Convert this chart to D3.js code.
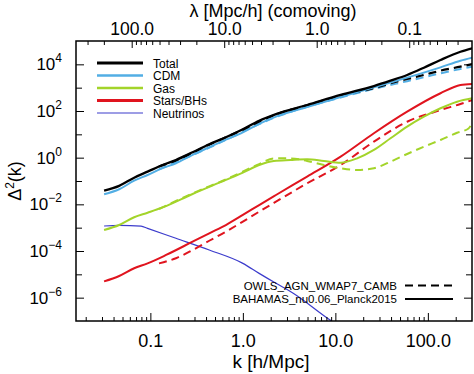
<!DOCTYPE html>
<html>
<head>
<meta charset="utf-8">
<script src="https://cdn.jsdelivr.net/npm/d3@7"></script>
<style>
  body { margin: 0; background: #fff; }
  svg { font-family: "Liberation Sans", Arial, sans-serif; }
</style>
</head>
<body>
<svg id="chart" width="474" height="374"></svg>
<script>
// [k (h/Mpc), Delta^2(k)]
var totalBahamas = [[0.0316, 0.0385], [0.046, 0.0617], [0.0668, 0.139], [0.0933, 0.251], [0.1355, 0.486], [0.189, 0.794],
    [0.286, 1.70], [0.433, 3.75], [0.655, 7.48], [1.0, 16.5], [1.50, 38.5], [2.28, 74], [4.95, 181], [11.4, 486],
    [26.1, 1175], [39.5, 1995], [59.7, 3500], [90.6, 7190], [137, 15380], [225, 34670], [301, 49000]];
var totalOwls = [[0.124, 0.42], [0.189, 0.76], [0.433, 3.6], [1.0, 15.8], [2.28, 72], [4.95, 174], [11.4, 457],
    [26.1, 955], [39.5, 1550], [59.7, 2340], [90.6, 3500], [137, 5370], [225, 7940], [301, 10230]];
var cdmBahamas = [[0.0316, 0.0269], [0.046, 0.0442], [0.0668, 0.103], [0.0933, 0.181], [0.1355, 0.355], [0.189, 0.575],
    [0.286, 1.32], [0.433, 2.79], [0.655, 5.89], [1.0, 12.2], [1.50, 28.2], [2.28, 57.1], [4.95, 148], [11.4, 398],
    [26.1, 1040], [59.7, 2690], [137, 7410], [225, 14350], [301, 19320]];
var cdmOwls = [[0.124, 0.316], [0.433, 2.69], [2.28, 55], [11.4, 380], [26.1, 890], [59.7, 1900], [90.6, 2790],
    [137, 4140], [225, 6310], [301, 7940]];
var gasBahamas = [[0.0316, 7.9e-4], [0.046, 1.3e-3], [0.0668, 2.79e-3], [0.0933, 4.37e-3], [0.1355, 7.4e-3],
    [0.286, 0.0278], [0.655, 0.111], [1.0, 0.228], [1.50, 0.486], [2.16, 0.721], [3.27, 0.794], [4.95, 0.851],
    [7.52, 0.721], [11.4, 0.61], [17.2, 0.933], [26.1, 2.14], [39.5, 6.76], [59.7, 21.4], [90.6, 57.1],
    [137, 131], [207, 251], [301, 351]];
var gasOwls = [[0.124, 6.3e-3], [0.286, 0.0295], [0.655, 0.117], [1.50, 0.525], [2.16, 0.933], [3.27, 0.933],
    [4.95, 0.721], [7.52, 0.486], [11.4, 0.351], [17.2, 0.296], [26.1, 0.351], [39.5, 0.676], [59.7, 1.44],
    [90.6, 2.95], [137, 5.73], [207, 11.7], [275, 17.8], [301, 31.6]];
var starsBahamas = [[0.0316, 5.0e-6], [0.046, 8.5e-6], [0.0668, 1.82e-5], [0.0933, 2.95e-5], [0.148, 6.76e-5],
    [0.286, 2.51e-4], [0.433, 5.75e-4], [0.655, 1.30e-3], [1.0, 3.50e-3], [1.50, 9.33e-3], [2.28, 0.0251],
    [4.95, 0.153], [11.4, 1.10], [26.1, 11.1], [59.7, 93.3], [137, 575], [225, 1300], [301, 1445]];
var starsOwls = [[0.124, 2.95e-5], [0.189, 4.9e-5], [0.286, 1.10e-4], [0.433, 2.75e-4], [0.655, 6.76e-4],
    [1.0, 1.82e-3], [1.50, 4.84e-3], [2.28, 0.013], [4.95, 0.0794], [11.4, 0.486], [26.1, 4.85], [59.7, 34.7],
    [137, 110], [225, 200], [301, 295]];
var neutrinosBahamas = [[0.0316, 1.18e-3], [0.046, 1.26e-3], [0.0794, 1.17e-3], [0.0933, 9.3e-4], [0.189, 3.5e-4],
    [0.433, 1.10e-4], [1.0, 2.95e-5], [1.50, 1.10e-5], [2.28, 4.12e-6], [3.5, 1.55e-6], [9.1, 1.0e-7], [10, 7.9e-8]];

var legendNames = ['Total', 'CDM', 'Gas', 'Stars/BHs', 'Neutrinos'];
var legendColors = ['#000000', '#52aee4', '#a3d42a', '#e0141e', '#3c3ccc'];
var legendWidths = [3, 2.5, 2.5, 3, 1.2];
var runNames = ['OWLS_AGN_WMAP7_CAMB', 'BAHAMAS_nu0.06_Planck2015'];

var bottomMajor = [0.1, 1, 10, 100];
var topMajor = [100, 10, 1, 0.1];
var yMajor = [1e-6, 1e-4, 1e-2, 1, 1e2, 1e4];
var yMinor = [1e-5, 1e-3, 1e-1, 1e1, 1e3];

var plotL = 76, plotR = 472, plotT = 41, plotB = 321;

var svg = d3.select('#chart');

var x = d3.scaleLog().domain([2 * Math.PI / 400, 300]).range([plotL, plotR]);
var lam = d3.scaleLog().domain([400, 2 * Math.PI / 300]).range([plotL, plotR]);
var y = d3.scaleLog().domain([1e-7, 1e5]).range([plotB, plotT]);

function minorTicks(scale, lo, hi) {
    var out = [];
    var dom = scale.domain(), a = Math.min(dom[0], dom[1]), b = Math.max(dom[0], dom[1]);
    for (var p = lo; p <= hi; p++) {
        for (var m = 2; m <= 9; m++) {
            var v = m * Math.pow(10, p);
            if (v > a && v < b) out.push(v);
        }
    }
    return out;
}
function fmtK(d) { return d >= 1 ? d.toFixed(1) : String(d); }

svg.append('defs').append('clipPath').attr('id', 'clip')
    .append('rect').attr('x', plotL).attr('y', plotT).attr('width', plotR - plotL).attr('height', plotB - plotT);

// series
var line = d3.line()
    .x(function (d) { return x(d[0]); })
    .y(function (d) { return y(d[1]); })
    .curve(d3.curveMonotoneX);

var series = [
    { data: neutrinosBahamas, c: 4, w: 1.2, dash: null },
    { data: starsOwls, c: 3, w: 2, dash: '8,5' },
    { data: gasOwls, c: 2, w: 2, dash: '8,5' },
    { data: cdmOwls, c: 1, w: 2, dash: '8,5' },
    { data: totalOwls, c: 0, w: 2.2, dash: '8,5' },
    { data: starsBahamas, c: 3, w: 2, dash: null },
    { data: gasBahamas, c: 2, w: 2, dash: null },
    { data: cdmBahamas, c: 1, w: 2, dash: null },
    { data: totalBahamas, c: 0, w: 2.3, dash: null }
];

var plot = svg.append('g').attr('clip-path', 'url(#clip)');
series.forEach(function (s) {
    plot.append('path')
        .attr('d', line(s.data))
        .attr('fill', 'none')
        .attr('stroke', legendColors[s.c])
        .attr('stroke-width', s.w)
        .attr('stroke-dasharray', s.dash);
});

// axes
function axisGroup(axis, tx, ty) {
    var g = svg.append('g').attr('transform', 'translate(' + tx + ',' + ty + ')').call(axis);
    g.select('.domain').remove();
    g.selectAll('line').attr('stroke', '#000').attr('stroke-width', 1);
    return g;
}

var bx = axisGroup(d3.axisBottom(x).tickValues(bottomMajor).tickSize(-8).tickPadding(13).tickFormat(fmtK), 0, plotB);
bx.selectAll('text').attr('font-size', 18).attr('fill', '#000');
axisGroup(d3.axisBottom(x).tickValues(minorTicks(x, -2, 2)).tickSize(-4).tickFormat(''), 0, plotB);

var tx = axisGroup(d3.axisTop(lam).tickValues(topMajor).tickSize(-7).tickPadding(6).tickFormat(fmtK), 0, plotT);
tx.selectAll('text').attr('font-size', 17.5).attr('fill', '#000');
axisGroup(d3.axisTop(lam).tickValues(minorTicks(lam, -2, 2)).tickSize(-4).tickFormat(''), 0, plotT);

axisGroup(d3.axisLeft(y).tickValues(yMajor).tickSize(-8).tickFormat(''), plotL, 0);
axisGroup(d3.axisLeft(y).tickValues(yMinor).tickSize(-6).tickFormat(''), plotL, 0);
axisGroup(d3.axisRight(y).tickValues(yMajor).tickSize(-8).tickFormat(''), plotR, 0);
axisGroup(d3.axisRight(y).tickValues(yMinor).tickSize(-6).tickFormat(''), plotR, 0);

// y tick labels as 10^n
yMajor.forEach(function (v) {
    var t = svg.append('text')
        .attr('x', plotL - 14)
        .attr('y', y(v) + 6)
        .attr('text-anchor', 'end')
        .attr('font-size', 17);
    t.append('tspan').text('10');
    t.append('tspan').attr('dy', -8).attr('font-size', 12)
        .text(String(Math.round(Math.log10(v))).replace('-', '\u2212'));
});

svg.append('rect')
    .attr('x', plotL).attr('y', plotT)
    .attr('width', plotR - plotL).attr('height', plotB - plotT)
    .attr('fill', 'none').attr('stroke', '#000').attr('stroke-width', 1.5);

// titles
svg.append('text').attr('x', 271).attr('y', 368)
    .attr('text-anchor', 'middle').attr('font-size', 19).text('k [h/Mpc]');
svg.append('text').attr('x', 273).attr('y', 16.5)
    .attr('text-anchor', 'middle').attr('font-size', 18).text('\u03bb [Mpc/h] (comoving)');
var yt = svg.append('text')
    .attr('transform', 'translate(21,' + ((plotT + plotB) / 2) + ') rotate(-90)')
    .attr('text-anchor', 'middle').attr('font-size', 18);
yt.append('tspan').text('\u0394');
yt.append('tspan').attr('dy', -7).attr('font-size', 12).text('2');
yt.append('tspan').attr('dy', 7).text('(k)');

// component legend
legendNames.forEach(function (name, i) {
    var yy = 63 + i * 12.5;
    svg.append('line')
        .attr('x1', 97).attr('x2', 143).attr('y1', yy).attr('y2', yy)
        .attr('stroke', legendColors[i]).attr('stroke-width', legendWidths[i]);
    svg.append('text').attr('x', 153).attr('y', yy + 4.5)
        .attr('font-size', 12).text(name);
});

// simulation legend
runNames.forEach(function (name, i) {
    var yy = 285.5 + i * 13.5;
    svg.append('text').attr('x', 397).attr('y', yy + 4)
        .attr('text-anchor', 'end').attr('font-size', 11.5).text(name);
    svg.append('line')
        .attr('x1', 405).attr('x2', 453).attr('y1', yy).attr('y2', yy)
        .attr('stroke', '#000').attr('stroke-width', 2)
        .attr('stroke-dasharray', i === 0 ? '8,5' : null);
});
</script>
</body>
</html>
